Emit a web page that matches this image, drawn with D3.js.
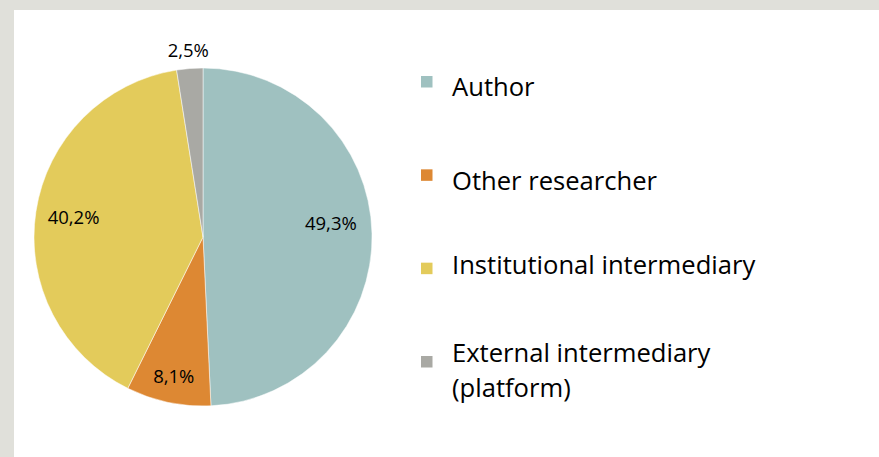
<!DOCTYPE html>
<html>
<head>
<meta charset="utf-8">
<script src="https://cdn.jsdelivr.net/npm/d3@7/dist/d3.min.js"></script>
<style>
  html, body { margin: 0; padding: 0; background: #fff; }
  svg { display: block; }
  text { font-family: "Open Sans", "Noto Sans", sans-serif; fill: #000; }
</style>
</head>
<body>
<svg id="chart" width="879" height="457"></svg>
<script>
// ---- data ----
const categories = ["Author", "Other researcher", "Institutional intermediary", "External intermediary (platform)"];
const legendLines = [["Author"], ["Other researcher"], ["Institutional intermediary"], ["External intermediary", "(platform)"]];
const values = [49.3, 8.1, 40.2, 2.5];
const valueLabels = ["49,3%", "8,1%", "40,2%", "2,5%"];
const colors = ["#9fc1c0", "#dd8833", "#e3cb5b", "#a9a9a4"];

// ---- layout ----
const W = 879, H = 457;
const cx = 203, cy = 237, R = 169;
const labelRadius = [0.745, 0.84, 0.775, 1.11];
const labelNudge = [[2, -11], [0, 0], [0, 0], [0, 0]];
const legendTextBaseline = [96, 189.5, 273.5, 362];

const svg = d3.select("#chart");
svg.append("rect").attr("width", W).attr("height", H).attr("fill", "#e0e0da");
svg.append("rect").attr("x", 14).attr("y", 10).attr("width", W - 14).attr("height", H - 10).attr("fill", "#ffffff");

const pie = d3.pie().sort(null).value(d => d)(values);
const arc = d3.arc().innerRadius(0).outerRadius(R);

const g = svg.append("g").attr("transform", `translate(${cx},${cy})`);
g.selectAll("path.slice").data(pie).join("path")
  .attr("class", "slice")
  .attr("d", arc)
  .attr("fill", (d, i) => colors[i])
  .attr("stroke", "#ffffff")
  .attr("stroke-width", 0.5);

g.selectAll("text.lbl").data(pie).join("text")
  .attr("class", "lbl")
  .attr("transform", (d, i) => {
    const a = (d.startAngle + d.endAngle) / 2;
    const r = R * labelRadius[i];
    return `translate(${Math.sin(a) * r + labelNudge[i][0]},${-Math.cos(a) * r + labelNudge[i][1]})`;
  })
  .attr("text-anchor", "middle")
  .attr("dy", "0.36em")
  .style("font-size", "18.5px")
  .text((d, i) => valueLabels[i]);

// legend
const ly = d3.scalePoint().domain(categories).range([76, 356]);
const leg = svg.append("g");
categories.forEach((c, i) => {
  leg.append("rect")
    .attr("x", 421).attr("y", ly(c))
    .attr("width", 11.5).attr("height", 11.5)
    .attr("fill", colors[i]);
  const t = leg.append("text")
    .attr("x", 452).attr("y", legendTextBaseline[i])
    .style("font-size", "25.6px");
  legendLines[i].forEach((line, j) => {
    t.append("tspan").attr("x", 452).attr("dy", j === 0 ? 0 : 35).text(line);
  });
});
</script>
</body>
</html>
